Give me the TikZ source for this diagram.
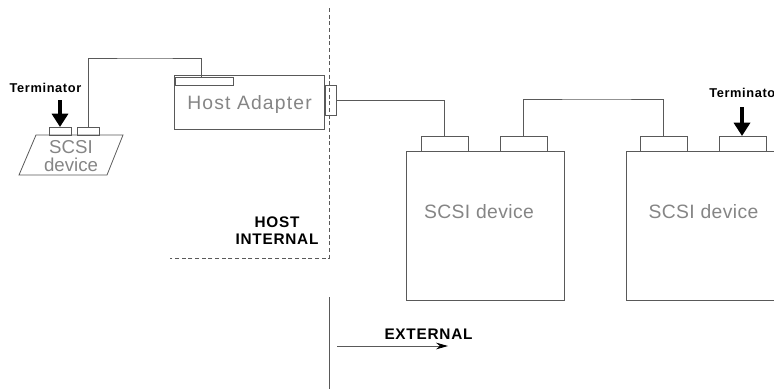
\documentclass[tikz,border=0pt]{standalone}
\usepackage{fontspec}
\setmainfont{Liberation Sans}
\usetikzlibrary{arrows.meta}
\definecolor{wire}{gray}{0.35}
\definecolor{lighttext}{gray}{0.52}
\tikzset{
  x=0.75pt,y=-0.75pt,
  line/.style={draw=wire,line width=0.6pt},
  boxn/.style={line,anchor=north west,inner sep=0pt,outer sep=0pt},
  thin label/.style={text=lighttext,inner sep=0pt,font=\fontsize{14.5pt}{16pt}\selectfont,align=center},
  bold label/.style={text=black,inner sep=0pt,font=\fontsize{11.5pt}{12.8pt}\selectfont\bfseries,align=center},
  small bold/.style={text=black,inner sep=0pt,font=\fontsize{9.6pt}{11pt}\selectfont\bfseries\addfontfeature{LetterSpace=5}},
  thick arrow/.style={-{Triangle[length=10pt,width=12pt]},line width=3.2pt,black},
  dashline/.style={draw=wire,line width=0.5pt,dash pattern=on 3pt off 2pt},
}
\begin{document}
\begin{tikzpicture}
\useasboundingbox (0,0) rectangle (774,390);
\clip (0,0) rectangle (774,390);
% left device
\coordinate (ltl) at (36,135);
\coordinate (ltr) at (123,135);
\coordinate (lbr) at (107,175);
\coordinate (lbl) at (19,175);
\draw[line] (ltl) -- (ltr) -- (lbr) -- (lbl) -- cycle;
\node[thin label,font=\fontsize{14pt}{13.5pt}\selectfont] (ldevt) at (71,156) {SCSI\\device};
\node[boxn,minimum width=16.5pt,minimum height=6pt] (lc1) at (49,127) {};
\node[boxn,minimum width=16.5pt,minimum height=6pt] (lc2) at (77,127) {};
\node[small bold] (lterm) at (45.5,88) {Terminator};
\coordinate (ltermtop) at (60,100);
\draw[thick arrow] (ltermtop) -- (lc1.north);
% host adapter
\node[boxn,minimum width=113pt,minimum height=40.5pt] (host) at (174,75) {};
\node[boxn,minimum width=44pt,minimum height=6pt] (hbar) at (175,77.5) {};
\node[boxn,minimum width=8pt,minimum height=22.5pt] (hport) at (325.5,85) {};
\node[thin label] (hostt) at (249.5,104) {\addfontfeature{LetterSpace=6}Host Adapter};
\coordinate (topwire) at (145,58);
\draw[line] (lc2.north) |- (topwire) -| ([xshift=-2pt]hbar.north);
% boundary
\coordinate (dtop) at (329,8);
\coordinate (dcorner) at (329,258);
\coordinate (dleft) at (170,258);
\draw[dashline] (dtop) -- (dcorner) -- (dleft);
\coordinate (stop) at (329,297);
\coordinate (sbot) at (329,389);
\draw[line] (stop) -- (sbot);
\node[bold label] (hi) at (277,231) {\addfontfeature{LetterSpace=5}HOST\\\addfontfeature{LetterSpace=5}INTERNAL};
\node[bold label] (ext) at (428.5,334) {\addfontfeature{LetterSpace=5}EXTERNAL};
\coordinate (ea) at (337,346);
\coordinate (eb) at (448,346);
\draw[line,-{Stealth[length=9pt,width=5pt,inset=3pt,black]}] (ea) -- (eb);
% device 1
\node[boxn,minimum width=119pt,minimum height=111.75pt] (d1) at (406,151) {};
\node[thin label] (d1t) at (479,212) {\addfontfeature{LetterSpace=2}SCSI device};
\node[boxn,minimum width=35.25pt,minimum height=11.25pt] (c1) at (421,136) {};
\node[boxn,minimum width=35.25pt,minimum height=11.25pt] (c2) at (500,136) {};
% device 2
\coordinate (d2tr) at (774,151);
\coordinate (d2tl) at (626,151);
\coordinate (d2bl) at (626,300);
\coordinate (d2br) at (774,300);
\draw[line] (d2tr) -- (d2tl) -- (d2bl) -- (d2br);
\node[thin label] (d2t) at (703.5,212) {\addfontfeature{LetterSpace=2}SCSI device};
\node[boxn,minimum width=35.25pt,minimum height=11.25pt] (c3) at (640,136) {};
\node[boxn,minimum width=35.25pt,minimum height=11.25pt] (c4) at (719,136) {};
\node[small bold,anchor=west] (rterm) at (709,93) {Terminator};
\coordinate (rtermtop) at (742,107);
\draw[thick arrow] (rtermtop) -- (c4.north -| rtermtop);
% wires
\draw[line] (hport.east) -| (c1.north);
\coordinate (busTop) at (600,99);
\draw[line] (c2.north) |- (busTop) -| (c3.north);
\end{tikzpicture}
\end{document}
